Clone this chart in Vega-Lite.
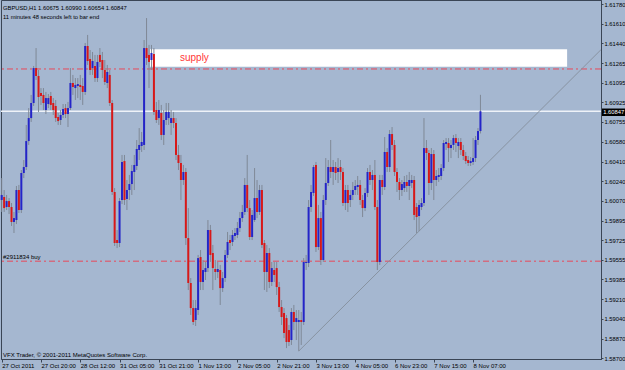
{
  "$schema": "https://vega.github.io/schema/vega-lite/v6.json",
  "width": 600,
  "height": 359,
  "autosize": "none",
  "padding": {"left": 1, "top": 0, "right": 24, "bottom": 11},
  "background": "#A5B7D0",
  "config": {
    "view": {"stroke": "#3a4555", "strokeWidth": 1, "fill": "#A5B7D0"},
    "scale": {"continuousPadding": 0},
    "axis": {"labelFont": "Liberation Sans", "labelFontSize": 6, "labelColor": "#000000", "domainColor": "#3a4555", "tickColor": "#3a4555", "tickSize": 3, "grid": false, "title": null, "labelOverlap": false, "labelFlush": false, "labelBound": false}
  },
  "datasets": {
    "bars": [
      {"t":0,"o":1.60075,"h":1.60266,"l":1.59971,"c":1.60119},
      {"t":1,"o":1.60101,"h":1.60162,"l":1.59971,"c":1.60005},
      {"t":2,"o":1.60014,"h":1.60119,"l":1.59988,"c":1.60066},
      {"t":3,"o":1.60066,"h":1.60092,"l":1.59953,"c":1.60014},
      {"t":4,"o":1.60014,"h":1.60049,"l":1.59849,"c":1.59884},
      {"t":5,"o":1.59884,"h":1.59971,"l":1.59788,"c":1.59918},
      {"t":6,"o":1.59901,"h":1.60197,"l":1.59866,"c":1.60162},
      {"t":7,"o":1.60162,"h":1.60206,"l":1.59962,"c":1.59988},
      {"t":8,"o":1.59988,"h":1.60336,"l":1.59962,"c":1.60310},
      {"t":9,"o":1.60310,"h":1.60423,"l":1.60266,"c":1.60362},
      {"t":10,"o":1.60362,"h":1.60728,"l":1.60336,"c":1.60588},
      {"t":11,"o":1.60588,"h":1.60875,"l":1.60554,"c":1.60788},
      {"t":12,"o":1.60788,"h":1.60989,"l":1.60754,"c":1.60919},
      {"t":13,"o":1.60919,"h":1.61241,"l":1.60893,"c":1.61223},
      {"t":14,"o":1.61223,"h":1.61397,"l":1.61119,"c":1.61154},
      {"t":15,"o":1.61154,"h":1.61206,"l":1.60841,"c":1.60971},
      {"t":16,"o":1.61006,"h":1.61049,"l":1.60902,"c":1.60980},
      {"t":17,"o":1.60989,"h":1.61049,"l":1.60858,"c":1.60919},
      {"t":18,"o":1.60858,"h":1.61015,"l":1.60823,"c":1.60962},
      {"t":19,"o":1.60910,"h":1.60997,"l":1.60875,"c":1.60962},
      {"t":20,"o":1.60980,"h":1.61015,"l":1.60858,"c":1.60902},
      {"t":21,"o":1.60919,"h":1.60962,"l":1.60815,"c":1.60858},
      {"t":22,"o":1.60893,"h":1.60945,"l":1.60754,"c":1.60788},
      {"t":23,"o":1.60797,"h":1.60832,"l":1.60728,"c":1.60762},
      {"t":24,"o":1.60771,"h":1.60858,"l":1.60728,"c":1.60815},
      {"t":25,"o":1.60815,"h":1.60910,"l":1.60788,"c":1.60867},
      {"t":26,"o":1.60875,"h":1.60910,"l":1.60788,"c":1.60823},
      {"t":27,"o":1.60823,"h":1.60928,"l":1.60710,"c":1.60875},
      {"t":28,"o":1.60875,"h":1.61223,"l":1.60858,"c":1.61093},
      {"t":29,"o":1.61093,"h":1.61163,"l":1.60989,"c":1.61058},
      {"t":30,"o":1.61049,"h":1.61136,"l":1.60945,"c":1.61076},
      {"t":31,"o":1.61067,"h":1.61136,"l":1.60962,"c":1.61084},
      {"t":32,"o":1.61076,"h":1.61163,"l":1.60945,"c":1.61058},
      {"t":33,"o":1.61067,"h":1.61136,"l":1.60902,"c":1.61015},
      {"t":34,"o":1.61015,"h":1.61441,"l":1.60989,"c":1.61415},
      {"t":35,"o":1.61415,"h":1.61511,"l":1.61250,"c":1.61284},
      {"t":36,"o":1.61302,"h":1.61380,"l":1.61163,"c":1.61206},
      {"t":37,"o":1.61223,"h":1.61363,"l":1.61163,"c":1.61284},
      {"t":38,"o":1.61241,"h":1.61337,"l":1.61102,"c":1.61136},
      {"t":39,"o":1.61136,"h":1.61337,"l":1.61102,"c":1.61276},
      {"t":40,"o":1.61337,"h":1.61397,"l":1.61232,"c":1.61276},
      {"t":41,"o":1.61293,"h":1.61363,"l":1.61136,"c":1.61206},
      {"t":42,"o":1.61206,"h":1.61293,"l":1.61076,"c":1.61102},
      {"t":43,"o":1.61093,"h":1.61250,"l":1.61049,"c":1.61189},
      {"t":44,"o":1.61163,"h":1.61206,"l":1.60893,"c":1.60919},
      {"t":45,"o":1.60919,"h":1.60945,"l":1.60119,"c":1.60145},
      {"t":46,"o":1.60145,"h":1.60179,"l":1.59675,"c":1.59701},
      {"t":47,"o":1.59727,"h":1.59814,"l":1.59657,"c":1.59701},
      {"t":48,"o":1.59701,"h":1.60092,"l":1.59666,"c":1.60066},
      {"t":49,"o":1.60075,"h":1.60467,"l":1.60040,"c":1.60406},
      {"t":50,"o":1.60414,"h":1.60467,"l":1.60032,"c":1.60075},
      {"t":51,"o":1.60084,"h":1.60249,"l":1.59988,"c":1.60162},
      {"t":52,"o":1.60162,"h":1.60293,"l":1.60075,"c":1.60214},
      {"t":53,"o":1.60214,"h":1.60380,"l":1.60119,"c":1.60327},
      {"t":54,"o":1.60319,"h":1.60467,"l":1.60162,"c":1.60380},
      {"t":55,"o":1.60371,"h":1.60597,"l":1.60336,"c":1.60519},
      {"t":56,"o":1.60510,"h":1.60701,"l":1.60423,"c":1.60554},
      {"t":57,"o":1.60545,"h":1.60667,"l":1.60493,"c":1.60580},
      {"t":58,"o":1.60554,"h":1.61467,"l":1.60510,"c":1.61397},
      {"t":59,"o":1.61397,"h":1.61658,"l":1.61250,"c":1.61310},
      {"t":60,"o":1.61337,"h":1.61424,"l":1.61049,"c":1.61276},
      {"t":61,"o":1.61293,"h":1.61424,"l":1.61206,"c":1.61354},
      {"t":62,"o":1.61345,"h":1.61397,"l":1.60815,"c":1.60841},
      {"t":63,"o":1.60858,"h":1.60928,"l":1.60745,"c":1.60771},
      {"t":64,"o":1.60788,"h":1.60945,"l":1.60728,"c":1.60858},
      {"t":65,"o":1.60832,"h":1.60902,"l":1.60597,"c":1.60641},
      {"t":66,"o":1.60641,"h":1.60858,"l":1.60554,"c":1.60771},
      {"t":67,"o":1.60771,"h":1.60919,"l":1.60728,"c":1.60841},
      {"t":68,"o":1.60788,"h":1.60919,"l":1.60728,"c":1.60841},
      {"t":69,"o":1.60745,"h":1.60858,"l":1.60641,"c":1.60788},
      {"t":70,"o":1.60788,"h":1.60841,"l":1.60701,"c":1.60745},
      {"t":71,"o":1.60745,"h":1.60788,"l":1.60423,"c":1.60467},
      {"t":72,"o":1.60467,"h":1.60554,"l":1.60336,"c":1.60397},
      {"t":73,"o":1.60397,"h":1.60467,"l":1.60075,"c":1.60249},
      {"t":74,"o":1.60249,"h":1.60380,"l":1.60206,"c":1.60319},
      {"t":75,"o":1.60319,"h":1.60353,"l":1.59684,"c":1.59744},
      {"t":76,"o":1.59744,"h":1.60005,"l":1.59292,"c":1.59353},
      {"t":77,"o":1.59353,"h":1.59396,"l":1.59075,"c":1.59135},
      {"t":78,"o":1.59135,"h":1.59205,"l":1.58988,"c":1.59014},
      {"t":79,"o":1.59031,"h":1.59205,"l":1.58979,"c":1.59135},
      {"t":80,"o":1.59118,"h":1.59597,"l":1.59075,"c":1.59570},
      {"t":81,"o":1.59579,"h":1.59640,"l":1.59292,"c":1.59362},
      {"t":82,"o":1.59362,"h":1.59553,"l":1.59292,"c":1.59466},
      {"t":83,"o":1.59449,"h":1.59536,"l":1.59379,"c":1.59483},
      {"t":84,"o":1.59483,"h":1.59901,"l":1.59449,"c":1.59814},
      {"t":85,"o":1.59814,"h":1.59858,"l":1.59536,"c":1.59597},
      {"t":86,"o":1.59614,"h":1.59684,"l":1.59292,"c":1.59483},
      {"t":87,"o":1.59475,"h":1.59553,"l":1.59379,"c":1.59449},
      {"t":88,"o":1.59449,"h":1.59536,"l":1.59396,"c":1.59475},
      {"t":89,"o":1.59466,"h":1.59510,"l":1.59162,"c":1.59309},
      {"t":90,"o":1.59309,"h":1.59449,"l":1.59275,"c":1.59396},
      {"t":91,"o":1.59396,"h":1.59640,"l":1.59362,"c":1.59597},
      {"t":92,"o":1.59597,"h":1.59797,"l":1.59570,"c":1.59710},
      {"t":93,"o":1.59727,"h":1.59771,"l":1.59640,"c":1.59701},
      {"t":94,"o":1.59710,"h":1.59814,"l":1.59675,"c":1.59771},
      {"t":95,"o":1.59762,"h":1.59831,"l":1.59727,"c":1.59788},
      {"t":96,"o":1.59771,"h":1.59884,"l":1.59744,"c":1.59831},
      {"t":97,"o":1.59831,"h":1.59971,"l":1.59797,"c":1.59918},
      {"t":98,"o":1.59918,"h":1.60032,"l":1.59884,"c":1.59971},
      {"t":99,"o":1.59971,"h":1.60266,"l":1.59945,"c":1.60206},
      {"t":100,"o":1.60206,"h":1.60467,"l":1.59971,"c":1.60005},
      {"t":101,"o":1.60005,"h":1.60075,"l":1.59727,"c":1.59753},
      {"t":102,"o":1.59753,"h":1.59988,"l":1.59727,"c":1.59945},
      {"t":103,"o":1.59901,"h":1.60353,"l":1.59884,"c":1.60092},
      {"t":104,"o":1.60092,"h":1.60249,"l":1.59918,"c":1.59971},
      {"t":105,"o":1.59971,"h":1.60206,"l":1.59945,"c":1.60162},
      {"t":106,"o":1.60162,"h":1.60206,"l":1.59657,"c":1.59684},
      {"t":107,"o":1.59701,"h":1.59727,"l":1.59292,"c":1.59449},
      {"t":108,"o":1.59449,"h":1.59684,"l":1.59275,"c":1.59614},
      {"t":109,"o":1.59614,"h":1.59657,"l":1.59309,"c":1.59362},
      {"t":110,"o":1.59362,"h":1.59536,"l":1.59327,"c":1.59483},
      {"t":111,"o":1.59466,"h":1.59536,"l":1.59362,"c":1.59423},
      {"t":112,"o":1.59483,"h":1.59536,"l":1.59249,"c":1.59318},
      {"t":113,"o":1.59318,"h":1.59362,"l":1.59101,"c":1.59144},
      {"t":114,"o":1.59144,"h":1.59205,"l":1.58988,"c":1.59057},
      {"t":115,"o":1.59092,"h":1.59135,"l":1.58874,"c":1.58918},
      {"t":116,"o":1.59048,"h":1.59075,"l":1.58787,"c":1.58840},
      {"t":117,"o":1.58944,"h":1.58988,"l":1.58805,"c":1.58840},
      {"t":118,"o":1.58857,"h":1.59135,"l":1.58814,"c":1.59101},
      {"t":119,"o":1.59101,"h":1.59162,"l":1.58944,"c":1.59014},
      {"t":120,"o":1.59014,"h":1.59118,"l":1.58857,"c":1.59048},
      {"t":121,"o":1.59014,"h":1.59118,"l":1.58761,"c":1.59031},
      {"t":122,"o":1.59031,"h":1.59101,"l":1.58814,"c":1.59014},
      {"t":123,"o":1.59014,"h":1.59570,"l":1.58988,"c":1.59536},
      {"t":124,"o":1.59527,"h":1.59597,"l":1.59466,"c":1.59536},
      {"t":125,"o":1.59527,"h":1.60075,"l":1.59492,"c":1.60014},
      {"t":126,"o":1.60014,"h":1.60206,"l":1.59971,"c":1.60145},
      {"t":127,"o":1.60136,"h":1.60380,"l":1.60110,"c":1.60362},
      {"t":128,"o":1.60380,"h":1.60406,"l":1.59623,"c":1.59666},
      {"t":129,"o":1.59666,"h":1.60032,"l":1.59640,"c":1.59918},
      {"t":130,"o":1.59918,"h":1.59971,"l":1.59510,"c":1.59553},
      {"t":131,"o":1.59553,"h":1.60119,"l":1.59536,"c":1.60075},
      {"t":132,"o":1.60075,"h":1.60440,"l":1.60032,"c":1.60223},
      {"t":133,"o":1.60223,"h":1.60423,"l":1.60197,"c":1.60362},
      {"t":134,"o":1.60362,"h":1.60597,"l":1.60266,"c":1.60319},
      {"t":135,"o":1.60319,"h":1.60423,"l":1.60206,"c":1.60362},
      {"t":136,"o":1.60362,"h":1.60406,"l":1.60249,"c":1.60310},
      {"t":137,"o":1.60319,"h":1.60440,"l":1.60223,"c":1.60353},
      {"t":138,"o":1.60362,"h":1.60423,"l":1.60249,"c":1.60319},
      {"t":139,"o":1.60319,"h":1.60353,"l":1.60023,"c":1.60049},
      {"t":140,"o":1.60049,"h":1.60206,"l":1.59988,"c":1.60162},
      {"t":141,"o":1.60162,"h":1.60206,"l":1.59971,"c":1.60049},
      {"t":142,"o":1.60075,"h":1.60162,"l":1.60014,"c":1.60119},
      {"t":143,"o":1.60119,"h":1.60232,"l":1.60075,"c":1.60162},
      {"t":144,"o":1.60162,"h":1.60249,"l":1.60119,"c":1.60197},
      {"t":145,"o":1.60188,"h":1.60284,"l":1.60119,"c":1.60206},
      {"t":146,"o":1.60206,"h":1.60249,"l":1.60032,"c":1.60075},
      {"t":147,"o":1.60075,"h":1.60119,"l":1.59927,"c":1.60005},
      {"t":148,"o":1.60005,"h":1.60179,"l":1.59979,"c":1.60136},
      {"t":149,"o":1.60136,"h":1.60353,"l":1.60101,"c":1.60319},
      {"t":150,"o":1.60319,"h":1.60380,"l":1.60206,"c":1.60249},
      {"t":151,"o":1.60249,"h":1.60336,"l":1.60162,"c":1.60293},
      {"t":152,"o":1.60293,"h":1.60423,"l":1.59988,"c":1.60014},
      {"t":153,"o":1.60014,"h":1.60075,"l":1.59466,"c":1.59536},
      {"t":154,"o":1.59536,"h":1.60293,"l":1.59510,"c":1.60249},
      {"t":155,"o":1.60249,"h":1.60293,"l":1.60119,"c":1.60188},
      {"t":156,"o":1.60188,"h":1.60623,"l":1.60162,"c":1.60493},
      {"t":157,"o":1.60493,"h":1.60527,"l":1.60319,"c":1.60362},
      {"t":158,"o":1.60362,"h":1.60684,"l":1.60319,"c":1.60649},
      {"t":159,"o":1.60649,"h":1.60710,"l":1.60510,"c":1.60554},
      {"t":160,"o":1.60554,"h":1.60597,"l":1.60284,"c":1.60319},
      {"t":161,"o":1.60319,"h":1.60353,"l":1.60145,"c":1.60232},
      {"t":162,"o":1.60232,"h":1.60266,"l":1.60075,"c":1.60162},
      {"t":163,"o":1.60162,"h":1.60249,"l":1.60110,"c":1.60214},
      {"t":164,"o":1.60179,"h":1.60284,"l":1.60145,"c":1.60232},
      {"t":165,"o":1.60232,"h":1.60293,"l":1.60145,"c":1.60197},
      {"t":166,"o":1.60197,"h":1.60319,"l":1.60075,"c":1.60249},
      {"t":167,"o":1.60223,"h":1.60293,"l":1.60179,"c":1.60249},
      {"t":168,"o":1.60249,"h":1.60284,"l":1.59901,"c":1.59945},
      {"t":169,"o":1.60014,"h":1.60049,"l":1.59788,"c":1.59927},
      {"t":170,"o":1.59936,"h":1.60075,"l":1.59805,"c":1.60032},
      {"t":171,"o":1.60014,"h":1.60092,"l":1.59988,"c":1.60049},
      {"t":172,"o":1.60049,"h":1.60788,"l":1.60023,"c":1.60527},
      {"t":173,"o":1.60527,"h":1.60597,"l":1.60423,"c":1.60484},
      {"t":174,"o":1.60484,"h":1.60510,"l":1.60119,"c":1.60223},
      {"t":175,"o":1.60223,"h":1.60527,"l":1.60162,"c":1.60475},
      {"t":176,"o":1.60475,"h":1.60510,"l":1.60075,"c":1.60249},
      {"t":177,"o":1.60249,"h":1.60336,"l":1.60197,"c":1.60284},
      {"t":178,"o":1.60275,"h":1.60353,"l":1.60232,"c":1.60293},
      {"t":179,"o":1.60284,"h":1.60388,"l":1.60249,"c":1.60353},
      {"t":180,"o":1.60353,"h":1.60597,"l":1.60327,"c":1.60571},
      {"t":181,"o":1.60562,"h":1.60614,"l":1.60510,"c":1.60580},
      {"t":182,"o":1.60571,"h":1.60614,"l":1.60406,"c":1.60527},
      {"t":183,"o":1.60527,"h":1.60597,"l":1.60440,"c":1.60554},
      {"t":184,"o":1.60554,"h":1.60641,"l":1.60510,"c":1.60614},
      {"t":185,"o":1.60614,"h":1.60649,"l":1.60493,"c":1.60571},
      {"t":186,"o":1.60545,"h":1.60614,"l":1.60440,"c":1.60580},
      {"t":187,"o":1.60580,"h":1.60614,"l":1.60467,"c":1.60510},
      {"t":188,"o":1.60510,"h":1.60554,"l":1.60423,"c":1.60458},
      {"t":189,"o":1.60458,"h":1.60493,"l":1.60388,"c":1.60414},
      {"t":190,"o":1.60423,"h":1.60458,"l":1.60371,"c":1.60397},
      {"t":191,"o":1.60397,"h":1.60449,"l":1.60371,"c":1.60414},
      {"t":192,"o":1.60406,"h":1.60614,"l":1.60380,"c":1.60440},
      {"t":193,"o":1.60440,"h":1.60632,"l":1.60406,"c":1.60597},
      {"t":194,"o":1.60597,"h":1.60701,"l":1.60554,"c":1.60675},
      {"t":195,"o":1.60675,"h":1.60990,"l":1.60654,"c":1.60847}
    ]
  },
  "layer": [
    {
      "data": {"values": [{}]},
      "mark": {"type": "rect", "color": "#ffffff"},
      "encoding": {
        "x": {"datum": 60.4, "type": "quantitative", "scale": {"domain": [-0.285, 244.1], "nice": false, "zero": false, "padding": 0}, "axis": {"values": [0,16,32,48,64,80,96,112,128,144,160,176,192], "tickCount": 50, "labelExpr": "['27 Oct 2011','27 Oct 20:00','28 Oct 12:00','31 Oct 05:00','31 Oct 21:00','1 Nov 13:00','2 Nov 05:00','2 Nov 21:00','3 Nov 13:00','4 Nov 05:00','6 Nov 23:00','7 Nov 15:00','8 Nov 07:00'][round(datum.value/16)]", "labelAlign": "left", "labelDx": 1, "labelBaseline": "top", "labelPadding": 0, "labelOverlap": false, "labelFlush": false}},
        "x2": {"datum": 230.3},
        "y": {"datum": 1.61386, "type": "quantitative", "scale": {"domain": [1.58692, 1.61815], "nice": false, "zero": false, "padding": 0}, "axis": {"orient": "right", "values": [1.6178,1.6161,1.6144,1.61265,1.61095,1.60925,1.60755,1.6058,1.6041,1.6024,1.6007,1.59895,1.59725,1.59555,1.59385,1.5921,1.5904,1.5887,1.587], "tickCount": 50, "format": ".5f", "tickSize": 2, "labelPadding": 1, "labelFontSize": 5.8, "labelBaseline": "middle", "labelOverlap": false, "labelFlush": false}},
        "y2": {"datum": 1.61235}
      }
    },
    {
      "data": {"values": [{}]},
      "mark": {"type": "rule", "color": "#e8485a", "strokeWidth": 1, "strokeDash": [6, 3, 2, 3]},
      "encoding": {"y": {"datum": 1.61215, "type": "quantitative"}}
    },
    {
      "data": {"values": [{}]},
      "mark": {"type": "rule", "color": "#e8485a", "strokeWidth": 1, "strokeDash": [6, 3, 2, 3]},
      "encoding": {"y": {"datum": 1.59543, "type": "quantitative"}}
    },
    {
      "data": {"values": [{}]},
      "mark": {"type": "rule", "color": "#eef2f8", "strokeWidth": 1.5},
      "encoding": {"y": {"datum": 1.60847, "type": "quantitative"}}
    },
    {
      "data": {"values": [{}]},
      "mark": {"type": "rule", "color": "#858e9c", "strokeWidth": 0.9},
      "encoding": {
        "x": {"datum": 121, "type": "quantitative"},
        "y": {"datum": 1.58761, "type": "quantitative"},
        "x2": {"datum": 244.1},
        "y2": {"datum": 1.61383}
      }
    },
    {
      "data": {"name": "bars"},
      "mark": {"type": "rule", "color": "#7f8896", "strokeWidth": 1},
      "encoding": {
        "x": {"field": "t", "type": "quantitative"},
        "y": {"field": "l", "type": "quantitative"},
        "y2": {"field": "h"}
      }
    },
    {
      "data": {"name": "bars"},
      "mark": {"type": "bar", "size": 2},
      "encoding": {
        "x": {"field": "t", "type": "quantitative"},
        "y": {"field": "o", "type": "quantitative"},
        "y2": {"field": "c"},
        "color": {"condition": {"test": "datum.c < datum.o", "value": "#d81818"}, "value": "#2424c8"}
      }
    },
    {
      "data": {"values": [{}]},
      "mark": {"type": "text", "text": "supply", "color": "#ff3838", "font": "Liberation Sans", "fontSize": 10, "align": "left", "baseline": "middle"},
      "encoding": {"x": {"datum": 72.6, "type": "quantitative"}, "y": {"datum": 1.6131, "type": "quantitative"}}
    },
    {
      "data": {"values": [{}]},
      "mark": {"type": "text", "text": "#2911834 buy", "color": "#000000", "font": "Liberation Sans", "fontSize": 6, "align": "left", "baseline": "middle"},
      "encoding": {"x": {"datum": 0.53, "type": "quantitative"}, "y": {"datum": 1.59579, "type": "quantitative"}}
    },
    {
      "data": {"values": [{}]},
      "mark": {"type": "text", "text": "GBPUSD,H1  1.60675 1.60990 1.60654 1.60847", "color": "#000000", "font": "Liberation Sans", "fontSize": 5.8, "align": "left", "baseline": "middle"},
      "encoding": {"x": {"datum": 0.53, "type": "quantitative"}, "y": {"datum": 1.61745, "type": "quantitative"}}
    },
    {
      "data": {"values": [{}]},
      "mark": {"type": "text", "text": "11 minutes 48 seconds left to bar end", "color": "#000000", "font": "Liberation Sans", "fontSize": 5.8, "align": "left", "baseline": "middle"},
      "encoding": {"x": {"datum": 0.53, "type": "quantitative"}, "y": {"datum": 1.61667, "type": "quantitative"}}
    },
    {
      "data": {"values": [{}]},
      "mark": {"type": "text", "text": "VFX Trader, © 2001-2011 MetaQuotes Software Corp.", "color": "#000000", "font": "Liberation Sans", "fontSize": 6, "align": "left", "baseline": "middle"},
      "encoding": {"x": {"datum": 0.53, "type": "quantitative"}, "y": {"datum": 1.58727, "type": "quantitative"}}
    },
    {
      "data": {"values": [{}]},
      "mark": {"type": "rect", "color": "#000000"},
      "encoding": {"x": {"datum": 244.5, "type": "quantitative"}, "x2": {"datum": 253.9}, "y": {"datum": 1.60871, "type": "quantitative"}, "y2": {"datum": 1.60806}}
    },
    {
      "data": {"values": [{}]},
      "mark": {"type": "text", "text": "1.60847", "color": "#ffffff", "font": "Liberation Sans", "fontSize": 5.8, "align": "left", "baseline": "middle"},
      "encoding": {"x": {"datum": 245.0, "type": "quantitative"}, "y": {"datum": 1.60843, "type": "quantitative"}}
    }
  ]
}
